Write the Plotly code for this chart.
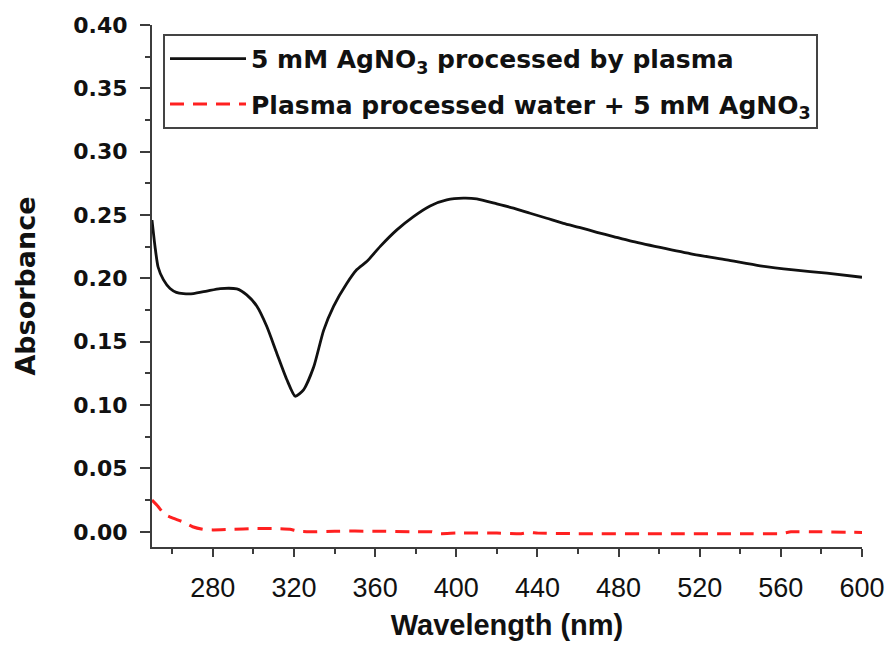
import plotly.graph_objects as go

# Black curve: 5 mM AgNO3 processed by plasma
wl_plasma = [250, 251.5, 253, 255.6, 258.9, 262, 265.5, 270.4, 277, 283.6, 291.8, 296.7,
             301.7, 306.6, 311.5, 316.5, 320.6, 324.7, 329.7, 334.6, 339.5, 346, 351, 356,
             362.4, 370.7, 378.9, 387.1, 395.3, 403.5, 410.1, 420, 428.2, 436.4, 444.6,
             452.8, 461.1, 469.3, 477.5, 485.7, 500.5, 516.9, 533.3, 549.8, 566.2, 582.7, 600]
abs_plasma = [0.246, 0.225, 0.209, 0.199, 0.192, 0.189, 0.188, 0.188, 0.190, 0.192, 0.1917, 0.187,
              0.178, 0.162, 0.141, 0.120, 0.107, 0.112, 0.130, 0.159, 0.178, 0.196, 0.207, 0.2135,
              0.2251, 0.2383, 0.2488, 0.2572, 0.2619, 0.2633, 0.2627, 0.2588, 0.2554, 0.2514, 0.2475,
              0.2435, 0.2401, 0.2364, 0.233, 0.2296, 0.2244, 0.219, 0.2146, 0.2099, 0.2067, 0.2041, 0.2009]

# Red dashed curve: Plasma processed water + 5 mM AgNO3
wl_water = [250, 253, 256, 260, 265, 270, 275, 280, 290, 300, 310, 318, 322, 330, 340, 360,
            380, 388, 392, 400, 420, 432, 436, 440, 460, 500, 540, 560, 565, 580, 600]
abs_water = [0.025, 0.020, 0.014, 0.011, 0.008, 0.004, 0.002, 0.0015, 0.002, 0.0025, 0.0025, 0.002,
             0.0005, 0.0, 0.0005, 0.0005, 0.0, 0.0, -0.0015, -0.001, -0.001, -0.0015, -0.0005, -0.001,
             -0.0015, -0.0015, -0.0015, -0.0015, 0.0, 0.0, -0.0005]

name_plasma = "5 mM AgNO<sub>3</sub> processed by plasma"
name_water = "Plasma processed water + 5 mM AgNO<sub>3</sub>"

x_ticks = [280, 320, 360, 400, 440, 480, 520, 560, 600]
y_ticks = [0.00, 0.05, 0.10, 0.15, 0.20, 0.25, 0.30, 0.35, 0.40]

axis_col = "#3c3c3c"

fig = go.Figure()
fig.add_trace(go.Scatter(x=wl_plasma, y=abs_plasma, mode="lines", name=name_plasma,
                         line=dict(color="#111111", width=2.8, shape="spline", smoothing=0.6),
                         legendgroup="a"))
fig.add_trace(go.Scatter(x=wl_water, y=abs_water, mode="lines", name=name_water,
                         line=dict(color="#ff2020", width=3, dash="14px,9px", shape="spline", smoothing=0.4),
                         legendgroup="b"))

fig.update_layout(
    template="none",
    width=891, height=649,
    margin=dict(l=152, r=29, t=25, b=102, autoexpand=False),
    paper_bgcolor="white", plot_bgcolor="white",
    showlegend=True,
    legend=dict(x=0.0155, y=0.983, xanchor="left", yanchor="top",
                bgcolor="white", bordercolor="#444444", borderwidth=2,
                font=dict(family="DejaVu Sans", size=25, color="#111111", weight="bold"),
                tracegroupgap=10, itemwidth=76),
    xaxis=dict(range=[250, 600], tickvals=x_ticks, ticktext=[str(v) for v in x_ticks],
               automargin=False,
               showgrid=False, zeroline=False, showline=True, linecolor=axis_col, linewidth=2,
               ticks="outside", ticklen=8, tickwidth=2, tickcolor=axis_col,
               ticklabelstandoff=8,
               minor=dict(dtick=20, tick0=260, ticks="outside", ticklen=5, tickwidth=2, tickcolor=axis_col),
               tickfont=dict(family="Liberation Sans", size=27, color="#111111"),
               title=dict(text="Wavelength (nm)", standoff=12,
                          font=dict(family="Liberation Sans", size=29, color="#111111", weight="bold"))),
    yaxis=dict(range=[-0.012, 0.40], tickvals=y_ticks, ticktext=["%.2f" % v for v in y_ticks],
               automargin=False,
               showgrid=False, zeroline=False, showline=True, linecolor=axis_col, linewidth=2,
               ticks="outside", ticklen=10, tickwidth=2, tickcolor=axis_col,
               ticklabelstandoff=8,
               minor=dict(dtick=0.025, tick0=0, ticks="outside", ticklen=5, tickwidth=2, tickcolor=axis_col),
               tickfont=dict(family="DejaVu Sans", size=22, color="#111111", weight="bold"),
               title=dict(text="Absorbance", standoff=30,
                          font=dict(family="DejaVu Sans", size=27, color="#111111", weight="bold"))),
)

fig.write_html("out.html")
